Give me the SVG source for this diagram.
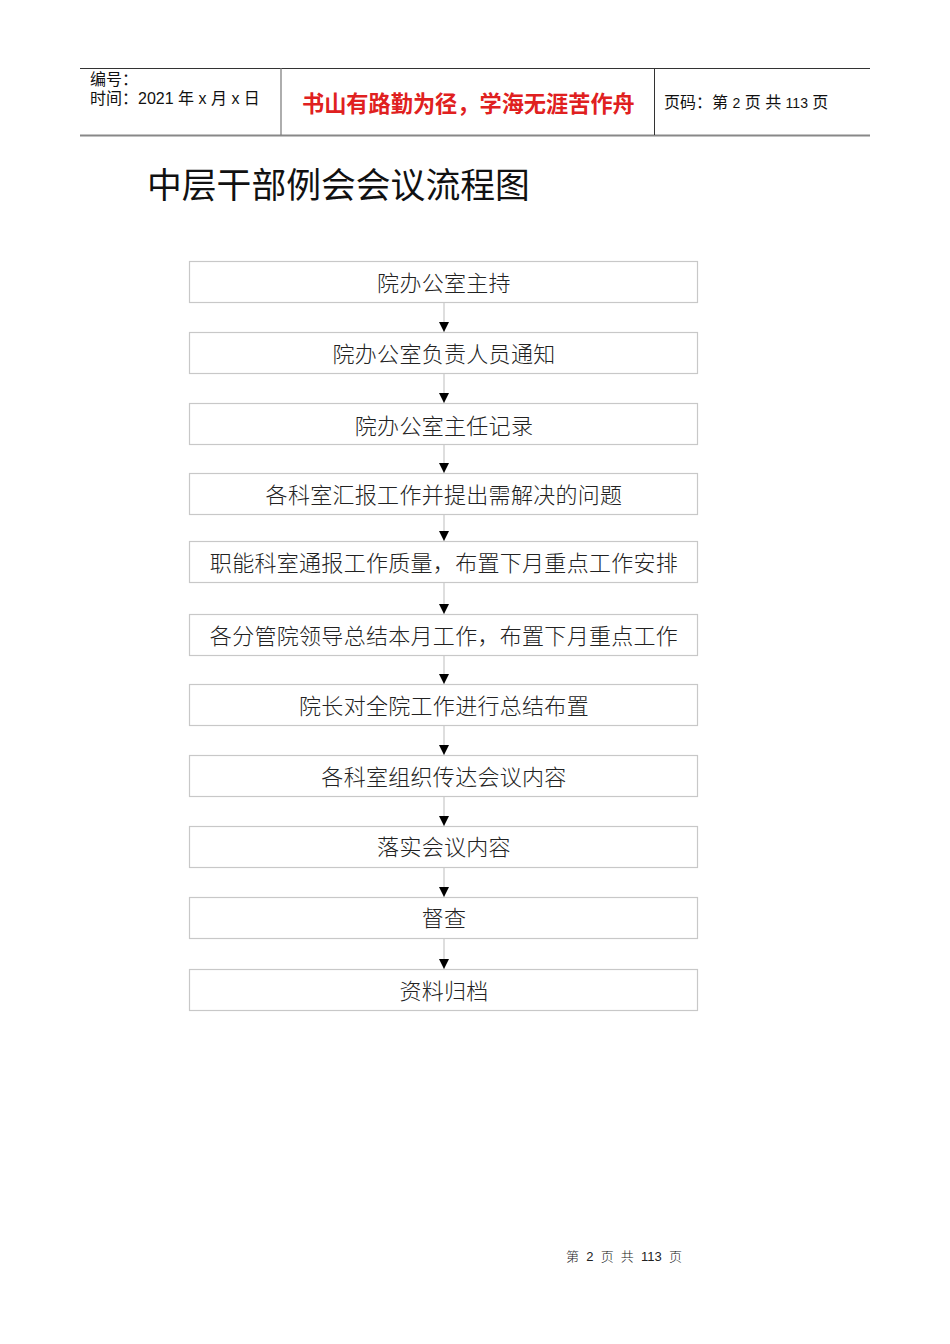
<svg xmlns="http://www.w3.org/2000/svg" width="950" height="1344" viewBox="0 0 950 1344">
<defs>
<style>
.box{fill:#fff;stroke:#c8c8c8;stroke-width:1.2}
.bt{font-family:"Noto Sans CJK SC",sans-serif;font-size:22px;letter-spacing:0.3px;fill:#222;text-anchor:middle;font-weight:300}
.hd{font-family:"Liberation Sans","Noto Sans CJK SC",sans-serif;font-size:16px;fill:#111}
.conn{stroke:#c8c8c8;stroke-width:1.2;fill:none}
</style>
<marker id="ah" viewBox="0 0 10 10" refX="10" refY="5" markerWidth="10" markerHeight="10" markerUnits="userSpaceOnUse" orient="auto">
<path d="M0,0 L10,5 L0,10 z" fill="#000"/>
</marker>
</defs>
<rect width="950" height="1344" fill="#fff"/>
<g id="header">
<line x1="80" y1="68.5" x2="870" y2="68.5" stroke="#333" stroke-width="1"/>
<line x1="80" y1="135.5" x2="870" y2="135.5" stroke="#888" stroke-width="2"/>
<line x1="281" y1="68" x2="281" y2="135" stroke="#777" stroke-width="1.2"/>
<line x1="654.5" y1="68" x2="654.5" y2="135" stroke="#333" stroke-width="1"/>
<text class="hd" x="90" y="85">编号：</text>
<text class="hd" x="90" y="104">时间：2021 年 x 月 x 日</text>
<text x="302" y="112" font-family="Noto Sans CJK SC,sans-serif" font-size="22.2" font-weight="bold" fill="#e02020">书山有路勤为径，学海无涯苦作舟</text>
<text class="hd" x="664" y="108">页码：第 <tspan font-size="14">2</tspan> 页  共 <tspan font-size="14">113</tspan> 页</text>
</g>
<text x="147" y="198" font-family="Noto Sans CJK SC,sans-serif" font-size="34.8" fill="#111">中层干部例会会议流程图</text>
<g id="connectors">
<line class="conn" x1="444" y1="302" x2="444" y2="332" marker-end="url(#ah)"/>
<line class="conn" x1="444" y1="373" x2="444" y2="403" marker-end="url(#ah)"/>
<line class="conn" x1="444" y1="444" x2="444" y2="473" marker-end="url(#ah)"/>
<line class="conn" x1="444" y1="514" x2="444" y2="541" marker-end="url(#ah)"/>
<line class="conn" x1="444" y1="582" x2="444" y2="614" marker-end="url(#ah)"/>
<line class="conn" x1="444" y1="655" x2="444" y2="684" marker-end="url(#ah)"/>
<line class="conn" x1="444" y1="725" x2="444" y2="755" marker-end="url(#ah)"/>
<line class="conn" x1="444" y1="796" x2="444" y2="826" marker-end="url(#ah)"/>
<line class="conn" x1="444" y1="867" x2="444" y2="897" marker-end="url(#ah)"/>
<line class="conn" x1="444" y1="938" x2="444" y2="969" marker-end="url(#ah)"/>
</g>
<g id="n1"><rect class="box" x="189.5" y="261.5" width="508" height="41"/><text class="bt" x="444" y="291">院办公室主持</text></g>
<g id="n2"><rect class="box" x="189.5" y="332.5" width="508" height="41"/><text class="bt" x="444" y="362">院办公室负责人员通知</text></g>
<g id="n3"><rect class="box" x="189.5" y="403.5" width="508" height="41"/><text class="bt" x="444" y="434">院办公室主任记录</text></g>
<g id="n4"><rect class="box" x="189.5" y="473.5" width="508" height="41"/><text class="bt" x="444" y="503">各科室汇报工作并提出需解决的问题</text></g>
<g id="n5"><rect class="box" x="189.5" y="541.5" width="508" height="41"/><text class="bt" x="444" y="571">职能科室通报工作质量，布置下月重点工作安排</text></g>
<g id="n6"><rect class="box" x="189.5" y="614.5" width="508" height="41"/><text class="bt" x="444" y="644">各分管院领导总结本月工作，布置下月重点工作</text></g>
<g id="n7"><rect class="box" x="189.5" y="684.5" width="508" height="41"/><text class="bt" x="444" y="714">院长对全院工作进行总结布置</text></g>
<g id="n8"><rect class="box" x="189.5" y="755.5" width="508" height="41"/><text class="bt" x="444" y="785">各科室组织传达会议内容</text></g>
<g id="n9"><rect class="box" x="189.5" y="826.5" width="508" height="41"/><text class="bt" x="444" y="855">落实会议内容</text></g>
<g id="n10"><rect class="box" x="189.5" y="897.5" width="508" height="41"/><text class="bt" x="444" y="926">督查</text></g>
<g id="n11"><rect class="box" x="189.5" y="969.5" width="508" height="41"/><text class="bt" x="444" y="999">资料归档</text></g>
<text x="624" y="1261" font-family="Liberation Sans,Noto Sans CJK SC,sans-serif" font-size="13" fill="#222" text-anchor="middle" font-weight="300" xml:space="preserve">第  2  页  共  113  页</text>
</svg>
